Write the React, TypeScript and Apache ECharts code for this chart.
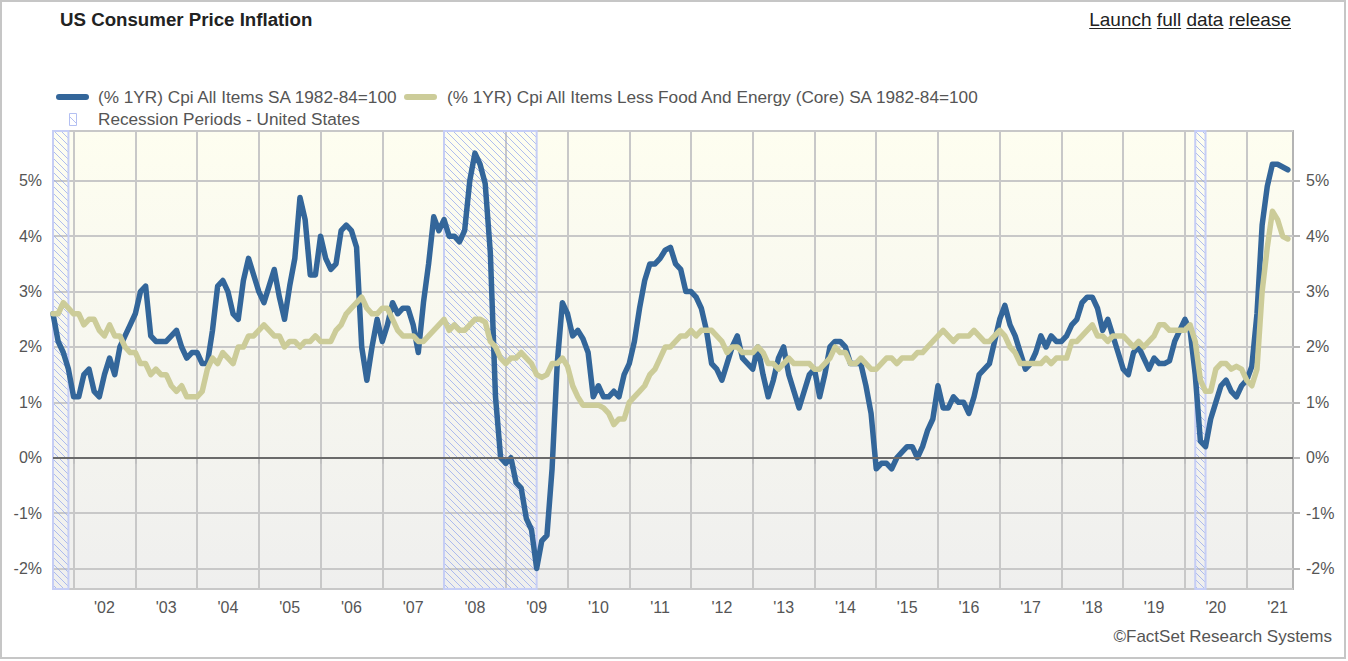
import React, { useEffect, useRef } from "react";
import * as echarts from "echarts";

// Monthly categories, Sep 2001 .. Oct 2021 (last one is an empty slot closing the axis)
const months: string[] = [];
{
  let y = 2001;
  let m = 9;
  while (y < 2021 || (y === 2021 && m <= 10)) {
    months.push(`${y}-${String(m).padStart(2, "0")}`);
    m += 1;
    if (m > 12) {
      m = 1;
      y += 1;
    }
  }
}

// (% 1YR) CPI All Items SA, Sep 2001 .. Sep 2021
const headlineCpi: number[] = [
  2.6, 2.1, 1.9, 1.6,
  1.1, 1.1, 1.5, 1.6, 1.2, 1.1, 1.5, 1.8, 1.5, 2.0, 2.2, 2.4,
  2.6, 3.0, 3.1, 2.2, 2.1, 2.1, 2.1, 2.2, 2.3, 2.0, 1.8, 1.9,
  1.9, 1.7, 1.7, 2.3, 3.1, 3.2, 3.0, 2.6, 2.5, 3.2, 3.6, 3.3,
  3.0, 2.8, 3.1, 3.4, 2.9, 2.5, 3.1, 3.6, 4.7, 4.3, 3.3, 3.3,
  4.0, 3.6, 3.4, 3.5, 4.1, 4.2, 4.1, 3.8, 2.0, 1.4, 2.0, 2.5,
  2.1, 2.4, 2.8, 2.6, 2.7, 2.7, 2.4, 1.9, 2.8, 3.5, 4.35, 4.1,
  4.3, 4.0, 4.0, 3.9, 4.1, 5.0, 5.5, 5.3, 4.95, 3.7, 1.1, 0.0,
  -0.1, 0.0, -0.45, -0.55, -1.1, -1.3, -2.0, -1.5, -1.4, -0.2, 1.7, 2.8,
  2.6, 2.2, 2.3, 2.15, 1.9, 1.1, 1.3, 1.1, 1.1, 1.2, 1.1, 1.5,
  1.7, 2.1, 2.7, 3.2, 3.5, 3.5, 3.6, 3.75, 3.8, 3.5, 3.4, 3.0,
  3.0, 2.9, 2.7, 2.3, 1.7, 1.6, 1.4, 1.7, 2.0, 2.2, 1.8, 1.7,
  1.6, 2.0, 1.5, 1.1, 1.4, 1.8, 2.0, 1.5, 1.2, 0.9, 1.2, 1.5,
  1.6, 1.1, 1.5, 2.0, 2.1, 2.1, 2.0, 1.7, 1.7, 1.7, 1.3, 0.8,
  -0.2, -0.1, -0.1, -0.2, 0.0, 0.1, 0.2, 0.2, 0.0, 0.2, 0.5, 0.7,
  1.3, 0.9, 0.9, 1.1, 1.0, 1.0, 0.8, 1.1, 1.5, 1.6, 1.7, 2.1,
  2.5, 2.75, 2.4, 2.2, 1.9, 1.6, 1.7, 1.9, 2.2, 2.0, 2.2, 2.1,
  2.1, 2.2, 2.4, 2.5, 2.8, 2.9, 2.9, 2.7, 2.3, 2.5, 2.2, 1.9,
  1.6, 1.5, 1.9, 2.0, 1.8, 1.6, 1.8, 1.7, 1.7, 1.75, 2.1, 2.3,
  2.5, 2.3, 1.5, 0.3, 0.2, 0.7, 1.0, 1.3, 1.4, 1.2, 1.1, 1.3,
  1.4, 1.65, 2.6, 4.2, 4.9, 5.3, 5.3, 5.25, 5.2,
];

// (% 1YR) CPI All Items Less Food And Energy (Core) SA, Sep 2001 .. Sep 2021
const coreCpi: number[] = [
  2.6, 2.6, 2.8, 2.7,
  2.6, 2.6, 2.4, 2.5, 2.5, 2.3, 2.2, 2.4, 2.2, 2.2, 2.0, 1.9,
  1.9, 1.7, 1.7, 1.5, 1.6, 1.5, 1.5, 1.3, 1.2, 1.3, 1.1, 1.1,
  1.1, 1.2, 1.6, 1.8, 1.7, 1.9, 1.8, 1.7, 2.0, 2.0, 2.2, 2.2,
  2.3, 2.4, 2.3, 2.2, 2.2, 2.0, 2.1, 2.1, 2.0, 2.1, 2.1, 2.2,
  2.1, 2.1, 2.1, 2.3, 2.4, 2.6, 2.7, 2.8, 2.9, 2.7, 2.6, 2.6,
  2.7, 2.7, 2.5, 2.3, 2.2, 2.2, 2.2, 2.1, 2.1, 2.2, 2.3, 2.4,
  2.5, 2.3, 2.4, 2.3, 2.3, 2.4, 2.5, 2.5, 2.45, 2.1, 2.0, 1.8,
  1.7, 1.8, 1.8, 1.9, 1.8, 1.7, 1.5, 1.45, 1.5, 1.7, 1.7, 1.8,
  1.65, 1.3, 1.1, 0.95, 0.95, 0.95, 0.95, 0.9, 0.8, 0.6, 0.7, 0.7,
  1.0, 1.1, 1.2, 1.3, 1.5, 1.6, 1.8, 2.0, 2.0, 2.1, 2.2, 2.2,
  2.3, 2.2, 2.3, 2.3, 2.3, 2.2, 2.1, 1.9, 2.0, 2.0, 1.9, 1.9,
  1.9, 2.0, 1.9, 1.7, 1.7, 1.6, 1.7, 1.8, 1.7, 1.7, 1.7, 1.7,
  1.6, 1.6, 1.7, 1.8, 2.0, 1.9, 1.9, 1.7, 1.7, 1.8, 1.7, 1.6,
  1.6, 1.7, 1.8, 1.8, 1.7, 1.8, 1.8, 1.8, 1.9, 1.9, 2.0, 2.1,
  2.2, 2.3, 2.2, 2.1, 2.2, 2.2, 2.2, 2.3, 2.2, 2.1, 2.1, 2.2,
  2.3, 2.2, 2.0, 1.9, 1.7, 1.7, 1.7, 1.7, 1.7, 1.8, 1.7, 1.8,
  1.8, 1.8, 2.1, 2.1, 2.2, 2.3, 2.4, 2.2, 2.2, 2.1, 2.2, 2.2,
  2.2, 2.1, 2.0, 2.1, 2.0, 2.1, 2.2, 2.4, 2.4, 2.3, 2.3, 2.3,
  2.3, 2.4, 2.1, 1.4, 1.2, 1.2, 1.6, 1.7, 1.7, 1.6, 1.65, 1.6,
  1.4, 1.3, 1.6, 3.0, 3.8, 4.45, 4.3, 4.0, 3.95,
];

// Recession periods (start month, first month after end)
const recessionStarts: string[] = ["2001-09", "2008-01", "2020-03"];
const recessionEnds: string[] = ["2001-12", "2009-07", "2020-05"];

const titleText = "US Consumer Price Inflation";
const linkWords: string[] = ["Launch", "full", "data", "release"];
const seriesNames: string[] = [
  "(% 1YR) Cpi All Items SA 1982-84=100",
  "(% 1YR) Cpi All Items Less Food And Energy (Core) SA 1982-84=100",
];
const recessionName = "Recession Periods - United States";
const creditText = "\u00A9FactSet Research Systems";

const FONT = "'Liberation Sans', Arial, Helvetica, sans-serif";
const BLUE = "#33669a";
const TAN = "#cccc99";
const TEXT_GRAY = "#555555";

function makeHatch(): HTMLCanvasElement {
  const c = document.createElement("canvas");
  const s = 7;
  c.width = s;
  c.height = s;
  const ctx = c.getContext("2d")!;
  ctx.strokeStyle = "rgba(150,168,238,0.75)";
  ctx.lineWidth = 1;
  ctx.beginPath();
  ctx.moveTo(-1, -1);
  ctx.lineTo(s + 1, s + 1);
  ctx.moveTo(-1, s - 1);
  ctx.lineTo(1, s + 1);
  ctx.moveTo(s - 1, -1);
  ctx.lineTo(s + 1, 1);
  ctx.stroke();
  return c;
}

export default function App() {
  const ref = useRef<HTMLDivElement>(null);

  useEffect(() => {
    if (!ref.current) return;
    const chart = echarts.init(ref.current, undefined, { renderer: "svg" });

    const headline = months.map((_, i) => (i < headlineCpi.length ? headlineCpi[i] : null));
    const core = months.map((_, i) => (i < coreCpi.length ? coreCpi[i] : null));
    const dummy = months.map(() => null);

    const hatch = makeHatch();
    const hatchColor: any = { image: hatch, repeat: "repeat", imageWidth: 7, imageHeight: 7 };

    // measure link words for underlines
    const mc = document.createElement("canvas").getContext("2d")!;
    const linkFont = `19px ${FONT}`;
    mc.font = linkFont;
    const linkFull = linkWords.join(" ");
    const fullW = mc.measureText(linkFull).width;
    const linkRight = 1291;
    const linkLeft = linkRight - fullW;
    const underlines: any[] = [];
    let prefix = "";
    linkWords.forEach((w, i) => {
      const x0 = linkLeft + mc.measureText(prefix).width;
      const ww = mc.measureText(w).width;
      underlines.push({
        type: "line",
        shape: { x1: x0, y1: 28.5, x2: x0 + ww, y2: 28.5 },
        style: { stroke: "#222", lineWidth: 1 },
        silent: true,
      });
      prefix += w + (i < linkWords.length - 1 ? " " : "");
    });

    const markAreaData = recessionStarts.map((s, i) => [{ xAxis: s }, { xAxis: recessionEnds[i] }]);

    const option: any = {
      animation: false,
      backgroundColor: "#ffffff",
      textStyle: { fontFamily: FONT },
      grid: {
        left: 53,
        right: 55,
        top: 131,
        bottom: 72,
        show: true,
        outerBoundsMode: "none",
        borderColor: "#b4b4b4",
        borderWidth: 2,
        backgroundColor: new echarts.graphic.LinearGradient(0, 0, 0, 1, [
          { offset: 0, color: "#fefef0" },
          { offset: 1, color: "#efefee" },
        ]),
      },
      xAxis: {
        type: "category",
        data: months,
        boundaryGap: false,
        axisLine: { show: true, lineStyle: { color: "#9a9a9a", width: 2 } },
        axisTick: {
          show: true,
          length: 6,
          lineStyle: { color: "#c0c0c0", width: 2 },
          interval: (idx: number, val: string) => val.endsWith("-01"),
        },
        axisLabel: {
          interval: (idx: number, val: string) => val.endsWith("-07"),
          formatter: (val: string) => "'" + val.slice(2, 4),
          color: TEXT_GRAY,
          fontSize: 16,
          fontFamily: FONT,
          margin: 10,
        },
        splitLine: {
          show: true,
          interval: (idx: number, val: string) => val.endsWith("-01"),
          lineStyle: { color: "#c8c8c8", width: 2 },
        },
      },
      yAxis: [
        {
          type: "value",
          min: -2.37,
          max: 5.9,
          splitNumber: 8,
          position: "left",
          axisLine: { show: true, lineStyle: { color: "#9a9a9a", width: 2 } },
          axisTick: { show: false },
          axisLabel: {
            formatter: (v: number) => (Math.abs(v - Math.round(v)) < 1e-6 ? Math.round(v) + "%" : ""),
            color: TEXT_GRAY,
            fontSize: 16,
            fontFamily: FONT,
            margin: 11,
            showMinLabel: false,
            showMaxLabel: false,
          },
          splitLine: { show: true, lineStyle: { color: "#c8c8c8", width: 2 } },
        },
        {
          type: "value",
          min: -2.37,
          max: 5.9,
          splitNumber: 8,
          position: "right",
          axisLine: { show: false },
          axisTick: { show: true, length: 7, lineStyle: { color: "#b8b8b8", width: 2 } },
          axisLabel: {
            formatter: (v: number) => (Math.abs(v - Math.round(v)) < 1e-6 ? Math.round(v) + "%" : ""),
            color: TEXT_GRAY,
            fontSize: 16,
            fontFamily: FONT,
            margin: 13,
            showMinLabel: false,
            showMaxLabel: false,
          },
          splitLine: { show: false },
        },
      ],
      series: [
        {
          name: recessionName,
          type: "line",
          data: dummy,
          z: 1,
          symbol: "none",
          silent: true,
          lineStyle: { opacity: 0 },
          markArea: {
            silent: true,
            itemStyle: { color: hatchColor, borderColor: "#c6cef5", borderWidth: 2 },
            data: markAreaData,
          },
          markLine: {
            silent: true,
            symbol: ["none", "none"],
            label: { show: false },
            lineStyle: { color: "#6a6a6a", width: 2, type: "solid" },
            data: [{ yAxis: 0 }],
          },
        },
        {
          name: seriesNames[0],
          type: "line",
          data: headline,
          z: 3,
          symbol: "none",
          connectNulls: false,
          lineStyle: { color: BLUE, width: 5.5, cap: "round", join: "round" },
          itemStyle: { color: BLUE },
        },
        {
          name: seriesNames[1],
          type: "line",
          data: core,
          z: 4,
          symbol: "none",
          lineStyle: { color: TAN, width: 5.5, cap: "round", join: "round" },
          itemStyle: { color: TAN },
        },
      ],
      graphic: [
        {
          type: "rect",
          z: -10,
          silent: true,
          shape: { x: 1, y: 1, width: 1344, height: 657 },
          style: { fill: "none", stroke: "#c6c6c6", lineWidth: 2 },
        },
        {
          type: "text",
          x: 60,
          y: 19,
          style: {
            text: titleText,
            font: `bold 18.7px ${FONT}`,
            fill: "#222222",
            textVerticalAlign: "middle",
            verticalAlign: "middle",
          },
        },
        {
          type: "text",
          x: linkRight,
          y: 19,
          style: {
            text: linkFull,
            font: linkFont,
            fill: "#222222",
            align: "right",
            textAlign: "right",
            verticalAlign: "middle",
            textVerticalAlign: "middle",
          },
        },
        ...underlines,
        // legend row 1
        {
          type: "line",
          silent: true,
          shape: { x1: 59, y1: 97, x2: 86, y2: 97 },
          style: { stroke: BLUE, lineWidth: 6, lineCap: "round" },
        },
        {
          type: "text",
          x: 98,
          y: 97,
          style: { text: seriesNames[0], font: `17.2px ${FONT}`, fill: TEXT_GRAY, verticalAlign: "middle", textVerticalAlign: "middle" },
        },
        {
          type: "line",
          silent: true,
          shape: { x1: 407, y1: 97, x2: 434, y2: 97 },
          style: { stroke: TAN, lineWidth: 6, lineCap: "round" },
        },
        {
          type: "text",
          x: 447,
          y: 97,
          style: { text: seriesNames[1], font: `17.2px ${FONT}`, fill: TEXT_GRAY, verticalAlign: "middle", textVerticalAlign: "middle" },
        },
        // legend row 2
        {
          type: "rect",
          silent: true,
          shape: { x: 69.5, y: 113.5, width: 7, height: 12 },
          style: { fill: "#ffffff", stroke: "#b4c0f2", lineWidth: 1 },
        },
        {
          type: "line",
          silent: true,
          shape: { x1: 70, y1: 117, x2: 76, y2: 123 },
          style: { stroke: "#b4c0f2", lineWidth: 1 },
        },
        {
          type: "text",
          x: 98,
          y: 119,
          style: { text: recessionName, font: `17.2px ${FONT}`, fill: TEXT_GRAY, verticalAlign: "middle", textVerticalAlign: "middle" },
        },
        {
          type: "text",
          x: 1332,
          y: 636,
          style: {
            text: creditText,
            font: `17px ${FONT}`,
            fill: TEXT_GRAY,
            align: "right",
            textAlign: "right",
            verticalAlign: "middle",
            textVerticalAlign: "middle",
          },
        },
      ],
    };

    chart.setOption(option);
    return () => {
      chart.dispose();
    };
  }, []);

  return (
    <div
      ref={ref}
      style={{ position: "absolute", left: 0, top: 0, width: 1348, height: 661, background: "#fff" }}
    />
  );
}
